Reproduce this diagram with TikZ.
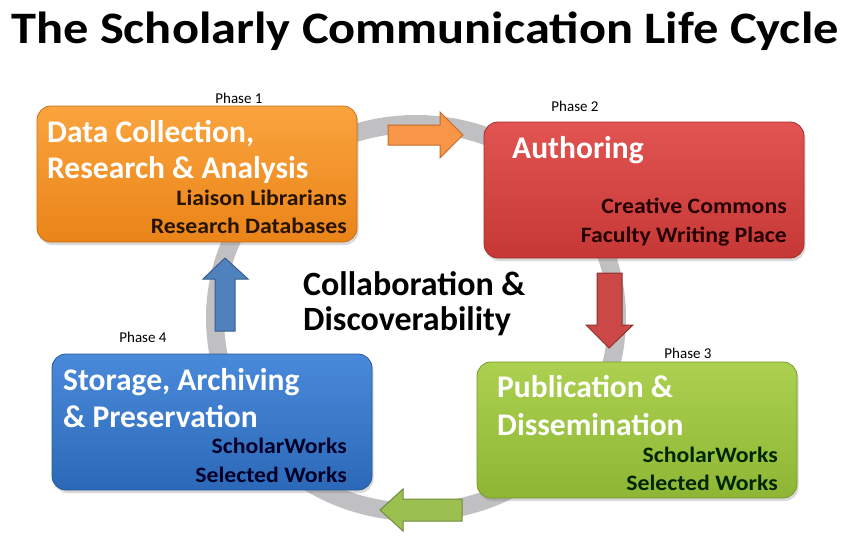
\documentclass[tikz,border=0pt]{standalone}
\usepackage{fontspec}
\setmainfont{Carlito}
\newfontfamily\titlefont[FakeStretch=1.12]{Carlito}
\newfontfamily\subfont[FakeStretch=1.08]{Carlito}
\usetikzlibrary{shadows}

\definecolor{ringgray}{RGB}{192,192,194}
\definecolor{orangetop}{RGB}{250,164,62}
\definecolor{orangebot}{RGB}{234,132,24}
\definecolor{orangeline}{RGB}{200,112,32}
\definecolor{redtop}{RGB}{226,84,82}
\definecolor{redbot}{RGB}{198,56,54}
\definecolor{redline}{RGB}{160,46,44}
\definecolor{greentop}{RGB}{172,208,80}
\definecolor{greenbot}{RGB}{142,182,52}
\definecolor{greenline}{RGB}{120,154,46}
\definecolor{bluetop}{RGB}{74,138,218}
\definecolor{bluebot}{RGB}{44,104,184}
\definecolor{blueline}{RGB}{40,88,150}
\definecolor{orangearrow}{RGB}{247,150,70}
\definecolor{orangearrowline}{RGB}{196,106,42}
\definecolor{redarrow}{RGB}{204,72,70}
\definecolor{redarrowline}{RGB}{140,50,48}
\definecolor{greenarrow}{RGB}{155,192,80}
\definecolor{greenarrowline}{RGB}{113,137,63}
\definecolor{bluearrow}{RGB}{79,129,189}
\definecolor{bluearrowline}{RGB}{56,93,138}

\begin{document}
\begin{tikzpicture}[x=1pt,y=-1pt,
	phasebox/.style={draw, line width=0.8pt, rounded corners=14pt,
		minimum width=320pt, minimum height=136pt, inner sep=0pt,
		drop shadow={opacity=0.3, shadow xshift=1.5pt, shadow yshift=-3pt}},
	boxhead/.style={anchor=base west, inner sep=0pt, text=white,
		font=\fontsize{31.5}{31.5}\selectfont\bfseries},
	boxsub/.style={anchor=base east, inner sep=0pt,
		font=\subfont\fontsize{22}{22}\selectfont\bfseries},
	phaselabel/.style={anchor=base, inner sep=0pt, font=\fontsize{15}{15}\selectfont},
	blockarrow/.style={line width=1pt, line join=miter}]
	\useasboundingbox (0,0) rectangle (846,542);

	% title
	\node[anchor=base, inner sep=0pt, font=\titlefont\fontsize{45}{45}\selectfont\bfseries] (title) at (425,43) {The Scholarly Communication Life Cycle};

	% ring
	\draw[ringgray, line width=18pt] (416,318) ellipse [x radius=201, y radius=194];

	% arrows along the ring
	\draw[blockarrow, fill=orangearrow, draw=orangearrowline] (388,125) -- (440,125) -- (440,112) -- (463,135) -- (440,158) -- (440,145) -- (388,145) -- cycle;
	\draw[blockarrow, fill=redarrow, draw=redarrowline] (597,273) -- (622,273) -- (622,325) -- (633,325) -- (609,348) -- (586,325) -- (597,325) -- cycle;
	\draw[blockarrow, fill=greenarrow, draw=greenarrowline] (462,499) -- (403,499) -- (403,489) -- (380,510) -- (403,531) -- (403,521) -- (462,521) -- cycle;
	\draw[blockarrow, fill=bluearrow, draw=bluearrowline] (215,331) -- (215,279) -- (203,279) -- (225,258) -- (248,279) -- (235,279) -- (235,331) -- cycle;

	% phase 1
	\node[phasebox, top color=orangetop, bottom color=orangebot, draw=orangeline] (collect) at (197,174) {};
	\node[phaselabel] (p1) at (239,103) {Phase 1};
	\node[boxhead] (collect1) at (47,142) {Data Collection,};
	\node[boxhead] (collect2) at (47,178) {Research \& Analysis};
	\node[boxsub, text=black!85!orange] (collect3) at (347,205) {Liaison Librarians};
	\node[boxsub, text=black!85!orange] (collect4) at (347,233) {Research Databases};

	% phase 2
	\node[phasebox, top color=redtop, bottom color=redbot, draw=redline] (author) at (644,190) {};
	\node[phaselabel] (p2) at (575,111) {Phase 2};
	\node[boxhead] (author1) at (512,158) {Authoring};
	\node[boxsub, text=black!85!red] (author2) at (787,213) {Creative Commons};
	\node[boxsub, text=black!85!red] (author3) at (787,242) {Faculty Writing Place};

	% phase 3
	\node[phasebox, top color=greentop, bottom color=greenbot, draw=greenline] (publish) at (637,430) {};
	\node[phaselabel] (p3) at (688,358) {Phase 3};
	\node[boxhead] (publish1) at (497,397) {Publication \&};
	\node[boxhead] (publish2) at (497,435) {Dissemination};
	\node[boxsub, text=black!85!green] (publish3) at (778,462) {ScholarWorks};
	\node[boxsub, text=black!85!green] (publish4) at (778,490) {Selected Works};

	% phase 4
	\node[phasebox, top color=bluetop, bottom color=bluebot, draw=blueline] (store) at (212,422) {};
	\node[phaselabel] (p4) at (143,342) {Phase 4};
	\node[boxhead] (store1) at (63,390) {Storage, Archiving};
	\node[boxhead] (store2) at (63,427) {\& Preservation};
	\node[boxsub, text=black!85!blue] (store3) at (347,453) {ScholarWorks};
	\node[boxsub, text=black!85!blue] (store4) at (347,482) {Selected Works};

	% centre
	\node[anchor=base west, inner sep=0pt, font=\fontsize{34}{34}\selectfont\bfseries] (collab1) at (303,295) {Collaboration \&};
	\node[anchor=base west, inner sep=0pt, font=\fontsize{34}{34}\selectfont\bfseries] (collab2) at (303,330) {Discoverability};
\end{tikzpicture}
\end{document}
